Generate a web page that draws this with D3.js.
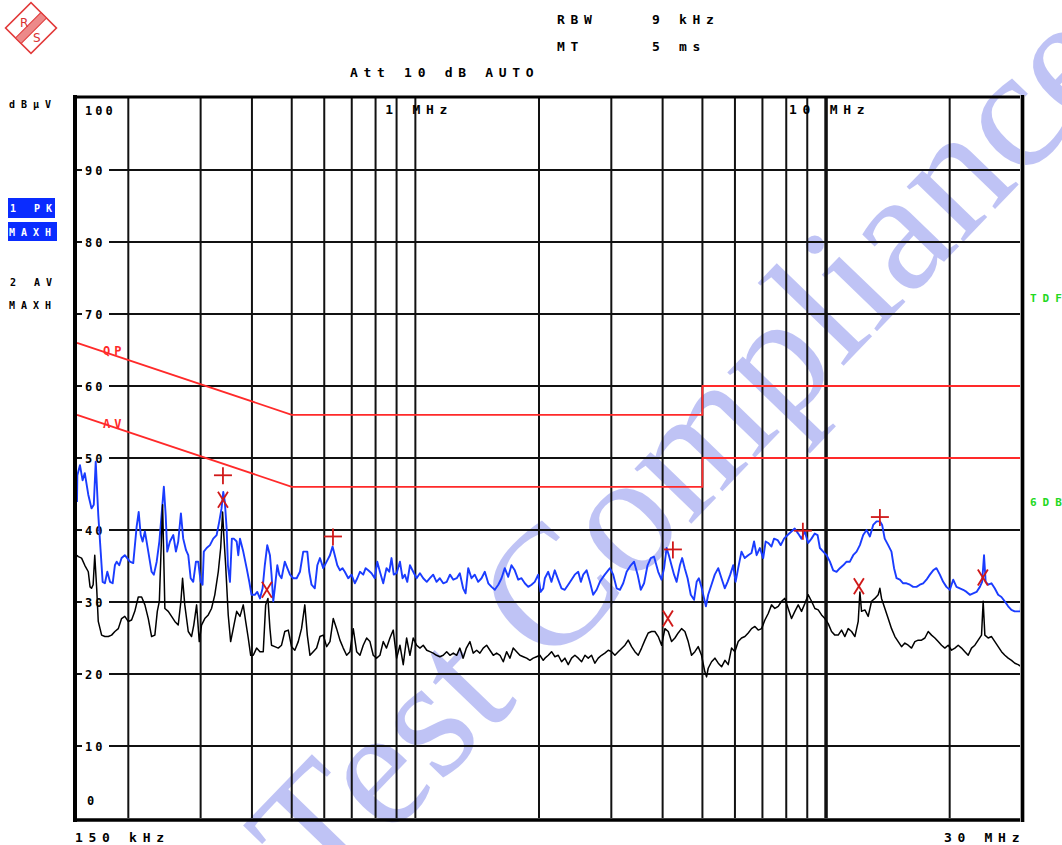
<!DOCTYPE html>
<html>
<head>
<meta charset="utf-8">
<script src="https://cdn.jsdelivr.net/npm/d3@7"></script>
<style>
  body { margin: 0; background: #fff; }
  svg { display: block; }
  text { font-family: "DejaVu Sans Mono", monospace; font-weight: bold; }
</style>
</head>
<body>
<div id="vis"></div>
<script>
// EMI conducted emission scan, 150 kHz - 30 MHz (frequencies in kHz, levels in dBuV)

// trace 1: peak, max hold (blue)
let pkFreq = [150,150.3,152.5,154.8,156.7,159.8,162.7,164.8,166.6,169,171.3,173.2,175.4,177.8,180.5,183.2,185.5,187.4,190.1,192.6,196.1,201.8,205.6,209.6,212,214.4,216.7,219.5,223.7,227.9,230.8,234.5,238,241,244.1,246.6,248.8,252.6,257.4,261.2,264.6,268.6,272.1,276.4,279.9,283.7,287.8,292.2,296,300.1,303.3,305.4,310.3,316.1,322,328.2,333.1,337.3,340.6,343.6,347.1,349.6,353.6,357.4,361.3,367.2,370.5,374.1,381,388.3,394.1,399.1,406.5,412.1,418.4,424.6,429.9,435.9,442.5,446.4,450.8,454.7,461.1,466.2,472.2,480.9,487.8,495.1,504.3,514,523.6,533.3,545.6,551.6,558.7,569,577.1,585.7,596.6,608.1,619.5,628.6,636.5,645.5,655.2,664.8,673.2,686.4,699.1,712.1,722.1,733,746.6,756.7,767.8,782,796.5,807.7,819.8,835.1,850.6,863.7,874.8,885.9,900.3,917.1,930.7,942.4,955.7,970,988.1,1007,1026,1045,1066,1085,1105,1126,1147,1169,1192,1214,1237,1261,1283,1307,1325,1345,1370,1395,1422,1449,1476,1505,1533,1561,1592,1621,1651,1683,1714,1746,1780,1813,1847,1883,1918,1953,1991,2018,2048,2067,2106,2145,2185,2227,2269,2311,2356,2400,2444,2492,2529,2563,2612,2660,2710,2763,2814,2892,2977,3032,3091,3149,3207,3269,3346,3408,3477,3539,3605,3676,3743,3812,3902,3975,4033,4090,4142,4204,4265,4327,4407,4463,4528,4601,4684,4771,4841,4901,4973,5046,5099,5164,5260,5358,5463,5564,5667,5758,5844,5941,6022,6110,6224,6339,6463,6583,6679,6775,6901,7030,7127,7229,7364,7471,7621,7758,7902,8060,8237,8389,8553,8712,8873,9047,9215,9385,9537,9660,9841,10030,10218,10409,10608,10807,11009,11220,11430,11644,11867,12089,12315,12551,12786,13025,13275,13523,13696,13895,14167,14430,14641,14850,15127,15409,15700,16000,16298,16607,16922,17238,17560,17898,18233,18570,18929,19283,19640,20022,20396,20780,21176,21572,21985,22396,22815,23250,23688,23991,24247,24470,24815,25276,25744,26245,26732,27228,27758,28273,28797,29360,29788,30000];
let pkLevel = [43.9,47.6,49,46.9,47.9,44.9,43,43.5,49.5,42.1,37,32.8,32.6,34.2,32.8,32.6,35.1,35.6,35.1,36.1,36.5,35.6,35.4,40.5,42.5,39.3,38.4,39.8,37,34.2,33.8,35.6,38.4,42.1,46,42.1,37,38.4,39.3,37,38.4,42.3,38.8,37.2,36.5,33.3,32.8,35.6,35.6,32.8,32.4,37,37.5,37.9,38.8,39.3,41.2,43,45.3,43.9,40.2,35.1,32.8,38.8,38.8,38.4,36.5,38.8,37,34.7,32.8,31,31,31.4,30.5,31.9,35.1,37.9,36.5,33.8,30.1,31.9,35.1,33.8,33.3,35.6,34.7,33.8,33.3,33.3,34.2,37,37,34.2,32.4,31.9,35.1,36.1,34.7,35.6,36.5,37.7,36.5,35.1,34.4,34.7,34.2,33.3,33.8,32.6,33.3,34.2,33.8,34.7,34.4,34,33.3,35.6,34.2,32.6,34.7,34.2,36.1,33.8,34,35.6,33.3,33.8,32.8,35.1,34.2,33.3,34,33.3,32.8,33.3,33.8,32.8,33.3,32.6,32.8,33.8,33.1,33.3,34,31.9,31.2,34.7,33.3,33.8,32.8,33.3,34.2,32.6,32.1,31.7,32.4,33.3,34.7,33.5,35.1,34.4,33.1,33.3,32.6,32.1,32.4,32.8,33.8,31.4,31.9,33.3,34.2,32.8,34.4,33.1,31.9,31.7,32.4,33.1,33.8,34.2,32.8,33.8,34.4,32.8,31,31.7,32.8,33.8,34.7,33.8,31.9,31.7,32.6,34.2,35.1,35.6,33.8,31.7,32.6,35.1,36.1,36.3,34.2,33.1,34.7,37.5,36.5,35.1,33.8,32.8,35.1,36.1,34.7,33.3,31,30.3,32.8,33.3,32.1,30.5,29.4,31,32.4,33.8,34.7,33.3,31.9,32.8,33.8,35.1,32.8,34.7,37,36.1,36.5,36.8,38.4,36.5,37.5,36.1,38.4,38.2,37.7,38.8,38.6,37.9,38.8,39.3,39.8,40.2,39.5,38.8,39.8,38.2,38.8,39.5,39.3,37.5,37,36.5,35.6,34.4,34.2,34.7,35.1,35.6,35.6,36.5,37,37.9,39.3,40,39.1,40.7,41.2,41.2,40.7,38.8,37.9,37,34.7,33.3,33.1,32.6,32.6,32.4,32.1,32.1,32.4,32.6,33.1,33.8,34.4,34.7,33.8,32.8,32.1,31.7,33.1,32.1,31.9,31.7,31.4,31,31.2,31.4,32.1,32.8,36.5,32.8,32.4,32.6,31.9,31,30.7,30.1,29.4,28.9,28.7,28.7,28.7,34.2];

// trace 2: average, max hold (black)
let avFreq = [150,151.1,153.9,156.7,159.8,161.4,162.7,164.2,165.7,167.5,169,172.2,175.4,178.8,182.1,185.5,189.1,192.6,196.1,199.9,203.7,207.4,211.5,215.5,219.5,223.7,227.9,232.1,235.3,238,242.4,245.5,250.2,254.9,259.6,264.6,268.6,271.1,274.5,279.9,285.1,288.7,293.3,297.7,301.5,307.1,313.1,318.9,324.8,331.2,335.7,339.3,341.6,345.2,350.2,355,360.2,367.2,374.1,381,386.2,391.8,397.2,403,410.6,418.4,426.2,432,437.5,442.5,446.4,454.7,463.6,472.2,480.9,490.4,499.4,508.7,518.6,528.2,538,545.6,553.8,564.1,574.9,585.7,596.6,608.1,619.5,631,643,655.2,667.4,680.2,693,705.9,719.5,733,746.6,760.9,775.2,789.6,804.7,819.8,835.1,850.6,867.1,883.3,900.3,917.1,934.3,952.1,970,988.1,1007,1026,1045,1066,1085,1105,1126,1147,1169,1192,1214,1237,1261,1283,1307,1331,1358,1383,1410,1436,1463,1491,1519,1548,1577,1607,1637,1668,1699,1731,1764,1797,1831,1866,1901,1936,1973,2010,2048,2068,2107,2146,2187,2228,2270,2312,2356,2401,2446,2493,2540,2588,2636,2685,2736,2788,2840,2894,2949,3005,3061,3119,3238,3298,3361,3424,3489,3555,3622,3689,3759,3830,3903,3977,4052,4128,4206,4285,4365,4448,4532,4617,4704,4793,4883,4975,5069,5117,5165,5263,5362,5464,5567,5672,5778,5887,5998,6111,6227,6344,6464,6586,6711,6837,6966,7097,7231,7367,7506,7648,7792,7939,8088,8241,8396,8555,8716,8881,9048,9219,9393,9570,9751,9935,10122,10313,10508,10705,10908,11114,11323,11537,11755,11976,12089,12202,12433,12666,12905,13149,13396,13523,13649,13907,14169,14437,14710,14985,15268,15557,15850,16149,16454,16763,17080,17403,17731,18065,18407,18752,19106,19467,19834,20209,20591,20978,21374,21778,22187,22606,23033,23466,23909,24130,24361,24819,25288,25766,26250,26745,27251,27763,28287,28822,29365,29920];
let avLevel = [36.5,36.3,36.1,35.1,34.2,32.1,31.9,32.4,36.5,31.9,27.3,25.4,25.2,25.2,25.4,25.9,26.3,27.7,28,27.3,27.5,28.7,30.7,30.7,29.6,27.7,25.2,25.4,28.7,30.1,43.5,29.1,28.7,28,27.3,26.8,30.1,33.3,29.6,25.9,25.2,26.8,29.6,24.5,26.8,27.7,28.2,29.1,31,34.2,37.5,42.5,39.3,35.1,28.2,24.5,26.3,28.7,28,29.6,27.3,25,22.6,22.6,23.6,23.1,23.1,29.6,30.5,26.3,24,23.8,23.6,24,25.9,26.1,23.8,23.3,24.5,26.3,29.6,25.4,22.6,23.1,23.6,25.2,25.4,23.8,24.5,27.7,26.3,24.7,23.6,22.6,23.1,26.3,23.1,22.6,24,25,24.5,22.6,22.2,22.6,24.5,23.6,25,26.1,22.2,24,21.3,25,22.6,25,24,23.6,24,23.3,23.1,22.9,22.6,22.4,22.6,23.1,22.6,22.9,22.6,23.6,22.2,23.6,24.5,22.9,23.3,22.9,23.6,24,23.3,22.6,22.9,22.6,21.7,23.1,22.2,23.6,23.1,22.6,22.4,22.2,21.9,22.2,22.4,22.6,21.9,22.2,22.6,23.1,22.4,22.6,21.7,22.2,21.3,22.2,22.6,22.2,21.7,22.6,22.2,22.6,21.5,22.2,22.6,22.9,23.3,23.1,22.6,23.1,24,24.7,23.8,23.1,22.6,23.6,24.7,25.7,25.9,25.9,25.2,24,26.3,25.9,24.5,25,25.7,26.3,25.9,24.5,22.6,23.1,23.8,22.6,20.3,19.6,20.8,21.7,22.2,21.5,21,21.9,21.3,23.6,23.1,24.5,25,25.2,25.7,26.3,26.6,26.1,26.3,27.5,28.4,29.6,29.1,29.4,30.1,30.5,29.1,27.7,28.7,29.6,28.7,29.8,31,30.1,29.1,28.9,28.2,27.7,27,25.9,25.4,25.4,26.1,25.2,26.3,25.9,25.2,27.3,31.4,28.7,28.9,28,30.1,30.5,31,31.9,30.5,29.1,27.7,26.3,25.2,24.5,23.8,24.3,24,23.6,24.5,24.7,24.7,25,25.9,25.4,25,24.5,24,23.6,24,23.3,23.6,24,23.6,23.1,22.6,23.6,24,24.7,25.4,30.1,25.4,25,25.2,24.5,23.8,23.1,22.6,22.2,21.9,21.5,21.3,21];

// limit lines (CISPR class B)
let qpLimitFreq = [150, 500, 5000, 5000, 30000];
let qpLimitLevel = [66, 56, 56, 60, 60];
let avLimitFreq = [150, 500, 5000, 5000, 30000];
let avLimitLevel = [56, 46, 46, 50, 50];

// final measurement markers
let qpMarkFreq = [340, 630, 4237, 8781, 13523];
let qpMarkLevel = [47.6, 39.1, 37.3, 39.9, 41.8];
let avMarkFreq = [340, 435, 4120, 12020, 24088];
let avMarkLevel = [44.2, 31.7, 27.7, 32.2, 33.4];

// axes
let yTicks = [10, 20, 30, 40, 50, 60, 70, 80, 90];
let gridFreqs = [200, 300, 400, 500, 600, 700, 800, 900, 1000, 2000, 3000, 4000, 5000, 6000, 7000, 8000, 9000, 10000, 20000];

let width = 1062, height = 845;

let svg = d3.select('#vis')
  .append('svg')
  .attr('width', width)
  .attr('height', height)
  .style('background-color', 'white');

let x = d3.scaleLog().domain([150, 30000]).range([77, 1022]);
let y = d3.scaleLinear().domain([0, 100]).range([818, 98]);

let mono = function(sel, size, ls) {
  return sel.style('font-size', size + 'px').style('letter-spacing', ls + 'px');
};

// watermark, under everything else
svg.append('text')
  .attr('transform', 'translate(322,906) rotate(-46)')
  .text('Test Compliance')
  .style('font-family', '"Liberation Serif", serif')
  .style('font-weight', 'normal')
  .style('font-size', '172px')
  .attr('fill', '#5a64e6')
  .attr('opacity', 0.38);

// R&S logo
let logo = svg.append('g').attr('transform', 'translate(31,28) rotate(45)');
logo.append('rect').attr('x', -18).attr('y', -18).attr('width', 36).attr('height', 36)
  .attr('fill', 'none').attr('stroke', '#e23a3a').attr('stroke-width', 1.6);
logo.append('rect').attr('x', -4).attr('y', -18).attr('width', 8).attr('height', 36)
  .attr('fill', '#ec8a8a').attr('stroke', '#e23a3a').attr('stroke-width', 1);
svg.append('text').attr('x', 20).attr('y', 27).text('R')
  .style('font-family', 'DejaVu Sans').style('font-weight', 'normal').style('font-size', '12px').attr('fill', '#d83030');
svg.append('text').attr('x', 33).attr('y', 42).text('S')
  .style('font-family', 'DejaVu Sans').style('font-weight', 'normal').style('font-size', '12px').attr('fill', '#d83030');

// header
mono(svg.append('text').attr('x', 557).attr('y', 24).text('RBW'), 13, 5.7);
mono(svg.append('text').attr('x', 652).attr('y', 24).text('9 kHz'), 13, 5.7);
mono(svg.append('text').attr('x', 557).attr('y', 51).text('MT'), 13, 5.7);
mono(svg.append('text').attr('x', 652).attr('y', 51).text('5 ms'), 13, 5.7);
mono(svg.append('text').attr('x', 350).attr('y', 77).text('Att 10 dB AUTO'), 13, 5.7);

// left side labels
mono(svg.append('text').attr('x', 9).attr('y', 108).text('dBµV'), 10, 6);
svg.append('rect').attr('x', 8).attr('y', 198).attr('width', 47).attr('height', 20).attr('fill', '#0a2cff');
mono(svg.append('text').attr('x', 10).attr('y', 212).text('1 PK').attr('fill', '#fff'), 10, 6);
svg.append('rect').attr('x', 8).attr('y', 222).attr('width', 49).attr('height', 19).attr('fill', '#0a2cff');
mono(svg.append('text').attr('x', 9).attr('y', 236).text('MAXH').attr('fill', '#fff'), 10, 6);
mono(svg.append('text').attr('x', 10).attr('y', 286).text('2 AV'), 10, 6);
mono(svg.append('text').attr('x', 9).attr('y', 309).text('MAXH'), 10, 6);

// right side labels (clipped by the window edge, as on the screen copy)
mono(svg.append('text').attr('x', 1030).attr('y', 302).text('TDF').attr('fill', '#22d822'), 11, 6);
mono(svg.append('text').attr('x', 1030).attr('y', 506).text('6DB').attr('fill', '#22d822'), 11, 6);

// grid
svg.append('g').selectAll('line').data(gridFreqs).join('line')
  .attr('x1', d => x(d)).attr('x2', d => x(d))
  .attr('y1', y(100)).attr('y2', y(0))
  .attr('stroke', '#111')
  .attr('stroke-width', d => d === 10000 ? 3.5 : 2);

svg.append('g').selectAll('line').data(yTicks).join('line')
  .attr('x1', x(150)).attr('x2', x(30000))
  .attr('y1', d => y(d)).attr('y2', d => y(d))
  .attr('stroke', '#111').attr('stroke-width', 2);

// y labels sit in a gap of the grid line
let yl = svg.append('g');
yl.selectAll('rect').data(yTicks).join('rect')
  .attr('x', 82).attr('y', d => y(d) - 6).attr('width', 27).attr('height', 12).attr('fill', '#fff');
yl.selectAll('text').data(yTicks).join('text')
  .attr('x', 85).attr('y', d => y(d) + 4.5)
  .text(d => d)
  .style('font-size', '12px').style('letter-spacing', '3px');
mono(svg.append('text').attr('x', 85).attr('y', 115).text('100'), 12, 3);
mono(svg.append('text').attr('x', 87).attr('y', 805).text('0'), 12, 3);

// frequency labels
mono(svg.append('text').attr('x', x(1000) - 30).attr('y', 114).text('1 MHz'), 13, 5.7);
mono(svg.append('text').attr('x', x(10000) - 37).attr('y', 114).text('10 MHz'), 13, 5.7);
mono(svg.append('text').attr('x', 75).attr('y', 842).text('150 kHz'), 13, 5.7);
mono(svg.append('text').attr('x', 944).attr('y', 842).text('30 MHz'), 13, 5.7);

// limit lines
let line = d3.line().x(d => x(d[0])).y(d => y(d[1]));
svg.append('path').datum(d3.zip(qpLimitFreq, qpLimitLevel))
  .attr('d', line).attr('fill', 'none').attr('stroke', '#ff2a2a').attr('stroke-width', 1.8);
svg.append('path').datum(d3.zip(avLimitFreq, avLimitLevel))
  .attr('d', line).attr('fill', 'none').attr('stroke', '#ff2a2a').attr('stroke-width', 1.8);
mono(svg.append('text').attr('x', 103).attr('y', 355).text('QP').attr('fill', '#ff2a2a'), 12, 4);
mono(svg.append('text').attr('x', 103).attr('y', 428).text('AV').attr('fill', '#ff2a2a'), 12, 4);

// traces
svg.append('path').datum(d3.zip(pkFreq, pkLevel))
  .attr('d', line).attr('fill', 'none').attr('stroke', '#1a3cff').attr('stroke-width', 1.9)
  .attr('stroke-linejoin', 'round');
svg.append('path').datum(d3.zip(avFreq, avLevel))
  .attr('d', line).attr('fill', 'none').attr('stroke', '#000').attr('stroke-width', 1.5)
  .attr('stroke-linejoin', 'round');

// markers: + for quasi-peak, x for average
let qp = svg.append('g').attr('stroke', '#d01818').attr('stroke-width', 1.8);
d3.zip(qpMarkFreq, qpMarkLevel).forEach(function(d) {
  let cx = x(d[0]), cy = y(d[1]);
  qp.append('line').attr('x1', cx - 9).attr('x2', cx + 9).attr('y1', cy).attr('y2', cy);
  qp.append('line').attr('x1', cx).attr('x2', cx).attr('y1', cy - 8).attr('y2', cy + 9);
});
let av = svg.append('g').attr('stroke', '#d01818').attr('stroke-width', 1.8);
d3.zip(avMarkFreq, avMarkLevel).forEach(function(d) {
  let cx = x(d[0]), cy = y(d[1]);
  av.append('line').attr('x1', cx - 5).attr('x2', cx + 5).attr('y1', cy - 8).attr('y2', cy + 8);
  av.append('line').attr('x1', cx + 5).attr('x2', cx - 5).attr('y1', cy - 8).attr('y2', cy + 8);
});

// frame
svg.append('line').attr('x1', 75).attr('x2', 75).attr('y1', 95).attr('y2', 822).attr('stroke', '#000').attr('stroke-width', 4);
svg.append('line').attr('x1', 73).attr('x2', 1024).attr('y1', 97).attr('y2', 97).attr('stroke', '#000').attr('stroke-width', 3);
svg.append('line').attr('x1', 73).attr('x2', 1025).attr('y1', 820).attr('y2', 820).attr('stroke', '#000').attr('stroke-width', 3.5);
svg.append('line').attr('x1', 1022.5).attr('x2', 1022.5).attr('y1', 95).attr('y2', 822).attr('stroke', '#aaa').attr('stroke-width', 5);
svg.append('line').attr('x1', 1022.5).attr('x2', 1022.5).attr('y1', 95).attr('y2', 822).attr('stroke', '#000').attr('stroke-width', 3);
</script>
</body>
</html>
